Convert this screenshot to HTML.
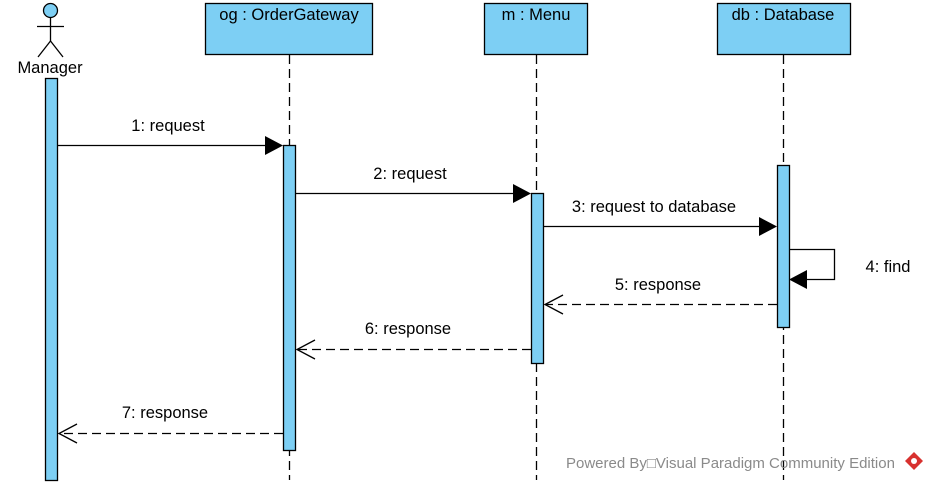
<!DOCTYPE html>
<html><head><meta charset="utf-8"><style>
html,body{margin:0;padding:0;background:#fff;width:932px;height:488px;overflow:hidden}
svg{display:block}
text{font-family:"Liberation Sans",Arial,sans-serif;fill:#000}
</style></head><body>
<svg width="932" height="488" viewBox="0 0 932 488" xmlns="http://www.w3.org/2000/svg" font-size="16.5">
<g stroke="#000" stroke-width="1.3" fill="none">
<line x1="289.5" y1="55" x2="289.5" y2="480" stroke-dasharray="9,5"/>
<line x1="536.5" y1="55" x2="536.5" y2="480" stroke-dasharray="9,5"/>
<line x1="783.5" y1="55" x2="783.5" y2="480" stroke-dasharray="9,5"/>
</g>
<g stroke="#000" stroke-width="1.3">
<circle cx="50.5" cy="10.5" r="7" fill="#7dcff4"/>
<line x1="50.5" y1="17.5" x2="50.5" y2="41"/>
<line x1="37" y1="26.5" x2="64" y2="26.5"/>
<line x1="50.5" y1="41" x2="38" y2="57"/>
<line x1="50.5" y1="41" x2="63" y2="57"/>
</g>
<text x="50" y="73" text-anchor="middle">Manager</text>
<g fill="#7dcff4" stroke="#000" stroke-width="1.3">
<rect x="205.5" y="3.5" width="167" height="51"/>
<rect x="484.5" y="3.5" width="103" height="51"/>
<rect x="717.5" y="3.5" width="133" height="51"/>
<rect x="45.5" y="78.5" width="12" height="402"/>
<rect x="283.5" y="145.5" width="12" height="305"/>
<rect x="531.5" y="193.5" width="12" height="170"/>
<rect x="777.5" y="165.5" width="12" height="162"/>
</g>
<text x="289" y="20" text-anchor="middle">og : OrderGateway</text>
<text x="536" y="20" text-anchor="middle">m : Menu</text>
<text x="783" y="20" text-anchor="middle">db : Database</text>
<g stroke="#000" stroke-width="1.3" fill="none">
<line x1="57" y1="145.5" x2="266" y2="145.5"/>
<line x1="295" y1="193.5" x2="514" y2="193.5"/>
<line x1="543" y1="226.5" x2="760" y2="226.5"/>
<polyline points="789,249.5 834.5,249.5 834.5,279.5 806,279.5"/>
<line x1="777" y1="304.5" x2="545" y2="304.5" stroke-dasharray="9,5"/>
<polyline points="563,295 545,304.5 563,314"/>
<line x1="531" y1="349.5" x2="297" y2="349.5" stroke-dasharray="9,5"/>
<polyline points="315,340 297,349.5 315,359"/>
<line x1="283" y1="433.5" x2="59" y2="433.5" stroke-dasharray="9,5"/>
<polyline points="77,424 59,433.5 77,443"/>
</g>
<g fill="#000">
<polygon points="265,136 283,145.5 265,155"/>
<polygon points="513,184 531,193.5 513,203"/>
<polygon points="759,217 777,226.5 759,236"/>
<polygon points="807,270 789,279.5 807,289"/>
</g>
<text x="168" y="131" text-anchor="middle">1: request</text>
<text x="410" y="179" text-anchor="middle">2: request</text>
<text x="654" y="212" text-anchor="middle">3: request to database</text>
<text x="888" y="272" text-anchor="middle">4: find</text>
<text x="658" y="290" text-anchor="middle">5: response</text>
<text x="408" y="334" text-anchor="middle">6: response</text>
<text x="165" y="418" text-anchor="middle">7: response</text>
<text x="566" y="468" font-size="15" style="fill:#8a8a8a">Powered By□Visual Paradigm Community Edition</text>
<g fill="#d8312f"><polygon points="914,452 923,461 914,470 905,461"/></g>
<circle cx="914" cy="461" r="3" fill="#fff"/>
</svg>
</body></html>
